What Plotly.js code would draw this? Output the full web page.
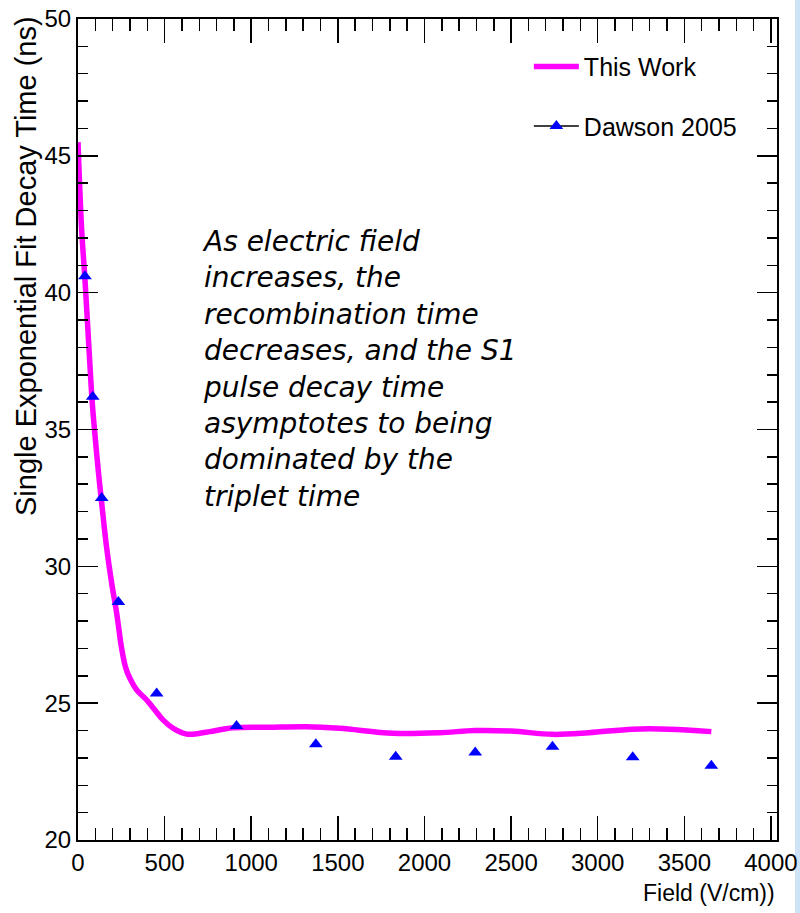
<!DOCTYPE html>
<html>
<head>
<meta charset="utf-8">
<script src="https://cdn.plot.ly/plotly-3.0.1.min.js"></script>
<style>
  html, body { margin: 0; padding: 0; background: #ffffff; }
  #chart { width: 800px; height: 913px; }
</style>
</head>
<body>
<div id="chart"></div>
<script>
// "This Work" curve: field (V/cm) and decay time (ns)
const workField = [0, 21, 40, 63, 82, 98, 117, 137, 165, 194, 223, 252, 275, 300, 339, 396, 444, 492, 550, 627, 704, 761, 896, 1100, 1319, 1511, 1818, 2088, 2290, 2500, 2739, 2950, 3201, 3414, 3656];
const workTime  = [45.5, 42.3, 40.5, 38.0, 36.0, 34.8, 33.5, 32.3, 30.7, 29.4, 28.3, 27.0, 26.3, 25.9, 25.48, 25.12, 24.75, 24.38, 24.08, 23.87, 23.9, 23.96, 24.1, 24.12, 24.14, 24.08, 23.9, 23.92, 24.0, 23.98, 23.86, 23.92, 24.05, 24.05, 23.96];

// "Dawson 2005" points
const dawsonField = [40, 85, 137, 233, 454, 915, 1373, 1834, 2293, 2739, 3202, 3656];
const dawsonTime  = [40.6, 36.2, 32.5, 28.7, 25.35, 24.17, 23.5, 23.04, 23.2, 23.41, 23.02, 22.71];

const seriesNames = ["This Work", "Dawson 2005"];
const xTitle = "Field (V/cm))";
const yTitle = "Single Exponential Fit Decay Time (ns)";
const noteLines = [
  "As electric field",
  "increases, the",
  "recombination time",
  "decreases, and the S1",
  "pulse decay time",
  "asymptotes to being",
  "dominated by the",
  "triplet time"
];

const rootFont = "'Liberation Sans', Arial, sans-serif";

const traces = [
  {
    x: workField, y: workTime, name: seriesNames[0],
    type: "scatter", mode: "lines",
    line: { color: "#ff00ff", width: 5.5, shape: "spline", smoothing: 1.0 },
    legendgroup: "a"
  },
  {
    x: dawsonField, y: dawsonTime, name: seriesNames[1],
    type: "scatter", mode: "markers",
    marker: { symbol: "triangle-up", size: 12, color: "#0000ff" },
    showlegend: false
  },
  {
    x: [null], y: [null], name: seriesNames[1],
    type: "scatter", mode: "lines+markers",
    line: { color: "#000000", width: 1.5 },
    marker: { symbol: "triangle-up", size: 12, color: "#0000ff" },
    legendgroup: "b"
  }
];

const axisCommon = {
  showgrid: false, zeroline: false,
  showline: true, linecolor: "#000000", linewidth: 2,
  mirror: "allticks", ticks: "inside", tickcolor: "#000000", tickwidth: 1.5,
  tickfont: { family: rootFont, size: 24, color: "#000000" }
};

const layout = {
  width: 800, height: 913,
  margin: { l: 78, r: 23, t: 19, b: 73, pad: 0 },
  paper_bgcolor: "#ffffff", plot_bgcolor: "#ffffff",
  showlegend: true,
  legend: {
    x: 0.645, y: 0.97, xanchor: "left", yanchor: "top",
    bgcolor: "rgba(255,255,255,0)", borderwidth: 0,
    font: { family: rootFont, size: 25, color: "#000000" },
    traceorder: "grouped", tracegroupgap: 24, itemwidth: 45
  },
  xaxis: Object.assign({}, axisCommon, {
    range: [0, 4035], tick0: 0, dtick: 500, ticklen: 24,
    minor: { dtick: 100, ticklen: 12, ticks: "inside", tickcolor: "#000000", tickwidth: 1.5 }
  }),
  yaxis: Object.assign({}, axisCommon, {
    range: [20, 50], tick0: 20, dtick: 5, ticklen: 20,
    minor: { dtick: 1, ticklen: 10, ticks: "inside", tickcolor: "#000000", tickwidth: 1.5 }
  }),
  shapes: [
    { type: "rect", xref: "paper", yref: "paper", x0: 1.0258, x1: 1.04, y0: -0.1, y1: 1.03,
      fillcolor: "#cfe3f6", line: { width: 0 }, layer: "below" }
  ],
  annotations: [
    { xref: "paper", yref: "paper", x: 1.0, y: -0.0646, xanchor: "right", yanchor: "middle",
      text: xTitle, showarrow: false,
      font: { family: rootFont, size: 23, color: "#000000" } },
    { xref: "paper", yref: "paper", x: -0.0745, y: 1.006, xanchor: "center", yanchor: "top",
      text: yTitle, textangle: -90, showarrow: false,
      font: { family: rootFont, size: 29, color: "#000000" } },
    { xref: "paper", yref: "paper", x: 0.175, y: 0.5734, xanchor: "left", yanchor: "middle",
      align: "left", text: noteLines.join("<br>"), showarrow: false,
      font: { family: "'DejaVu Sans', sans-serif", size: 28, color: "#000000", style: "italic" } }
  ]
};

Plotly.newPlot("chart", traces, layout, { staticPlot: true, displayModeBar: false });
</script>
</body>
</html>
